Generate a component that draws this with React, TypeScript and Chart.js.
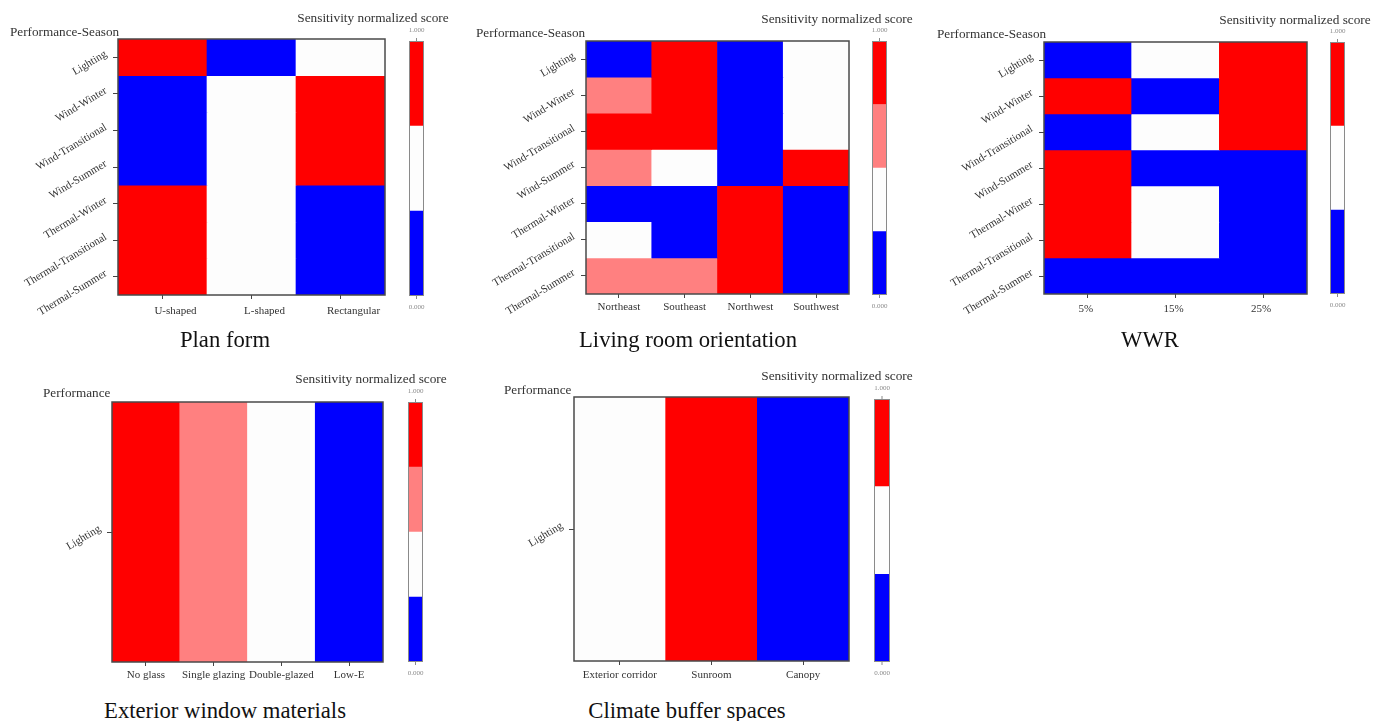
import { useEffect, useRef } from "react";
import { Chart, registerables } from "chart.js";

Chart.register(...registerables);

const SERIF = '"Liberation Serif", "Times New Roman", serif';

// Row labels (performance / season)
const seasonRows = [
  "Lighting",
  "Wind-Winter",
  "Wind-Transitional",
  "Wind-Summer",
  "Thermal-Winter",
  "Thermal-Transitional",
  "Thermal-Summer",
];
const lightingRow = ["Lighting"];

// Design levels (columns)
const planFormLevels = ["U-shaped", "L-shaped", "Rectangular"];
const orientationLevels = ["Northeast", "Southeast", "Northwest", "Southwest"];
const wwrLevels = ["5%", "15%", "25%"];
const windowLevels = ["No glass", "Single glazing", "Double-glazed", "Low-E"];
const bufferLevels = ["Exterior corridor", "Sunroom", "Canopy"];

// Sensitivity normalized scores, one row per performance-season
const planFormScores = [
  [1.0, 0.0, 0.52],
  [0.0, 0.46, 1.0],
  [0.0, 0.5, 1.0],
  [0.0, 0.55, 1.0],
  [1.0, 0.48, 0.0],
  [1.0, 0.5, 0.0],
  [1.0, 0.44, 0.0],
];
const orientationScores = [
  [0.12, 1.0, 0.0, 0.38],
  [0.62, 1.0, 0.0, 0.35],
  [0.86, 1.0, 0.0, 0.4],
  [0.6, 0.45, 0.0, 1.0],
  [0.1, 0.15, 1.0, 0.0],
  [0.3, 0.08, 1.0, 0.0],
  [0.58, 0.64, 1.0, 0.0],
];
const wwrScores = [
  [0.0, 0.5, 1.0],
  [1.0, 0.0, 0.9],
  [0.0, 0.45, 1.0],
  [1.0, 0.1, 0.0],
  [1.0, 0.5, 0.0],
  [1.0, 0.55, 0.0],
  [0.25, 0.1, 0.0],
];
const windowScores = [[1.0, 0.6, 0.35, 0.0]];
const bufferScores = [[0.5, 1.0, 0.0]];

// Discrete colour scales (low -> high)
const threeBinColors = ["#0000FF", "#FDFDFD", "#FF0000"];
const fourBinColors = ["#0000FF", "#FDFDFD", "#FF8080", "#FF0000"];
const scoreTickValues = [0, 1];
const scoreTickLabels = ["0.000", "1.000"];

function binColor(score: number, colors: string[]) {
  const n = colors.length;
  const k = Math.min(n - 1, Math.max(0, Math.floor(score * n)));
  return colors[k];
}

type Box = { x: number; y: number; w: number; h: number };
type Panel = {
  title: string;
  rowTitle: string;
  rows: string[];
  cols: string[];
  scores: number[][];
  colors: string[];
  plot: Box;
  bar: Box;
  labelGap: number;
  labelShift: number;
  rowTitleX: number;
  rowTitleY: number;
  legendX: number;
  legendY: number;
  titleX: number;
  titleY: number;
};

const panels: Panel[] = [
  {
    title: "Plan form",
    rowTitle: "Performance-Season",
    rows: seasonRows,
    cols: planFormLevels,
    scores: planFormScores,
    colors: threeBinColors,
    plot: { x: 118, y: 39, w: 267, h: 256 },
    bar: { x: 409, y: 41, w: 15, h: 255 },
    labelGap: 6,
    labelShift: 13,
    rowTitleX: 10,
    rowTitleY: 32,
    legendX: 373,
    legendY: 18,
    titleX: 225,
    titleY: 340,
  },
  {
    title: "Living room orientation",
    rowTitle: "Performance-Season",
    rows: seasonRows,
    cols: orientationLevels,
    scores: orientationScores,
    colors: fourBinColors,
    plot: { x: 586, y: 41, w: 263, h: 253 },
    bar: { x: 872, y: 41, w: 15, h: 254 },
    labelGap: 3,
    labelShift: 0,
    rowTitleX: 476,
    rowTitleY: 33,
    legendX: 837,
    legendY: 19,
    titleX: 688,
    titleY: 340,
  },
  {
    title: "WWR",
    rowTitle: "Performance-Season",
    rows: seasonRows,
    cols: wwrLevels,
    scores: wwrScores,
    colors: threeBinColors,
    plot: { x: 1044, y: 42, w: 263, h: 252 },
    bar: { x: 1330, y: 42, w: 15, h: 252 },
    labelGap: 5,
    labelShift: -2,
    rowTitleX: 937,
    rowTitleY: 34,
    legendX: 1295,
    legendY: 20,
    titleX: 1150,
    titleY: 340,
  },
  {
    title: "Exterior window materials",
    rowTitle: "Performance",
    rows: lightingRow,
    cols: windowLevels,
    scores: windowScores,
    colors: fourBinColors,
    plot: { x: 112, y: 402, w: 271, h: 260 },
    bar: { x: 408, y: 402, w: 15, h: 260 },
    labelGap: 3,
    labelShift: 0,
    rowTitleX: 43,
    rowTitleY: 393,
    legendX: 371,
    legendY: 379,
    titleX: 225,
    titleY: 711,
  },
  {
    title: "Climate buffer spaces",
    rowTitle: "Performance",
    rows: lightingRow,
    cols: bufferLevels,
    scores: bufferScores,
    colors: threeBinColors,
    plot: { x: 574, y: 397, w: 275, h: 264 },
    bar: { x: 874, y: 399, w: 16, h: 263 },
    labelGap: 4,
    labelShift: 0,
    rowTitleX: 504,
    rowTitleY: 390,
    legendX: 837,
    legendY: 376,
    titleX: 687,
    titleY: 711,
  },
];

const AXIS_W = 115;
const AXIS_H = 34;
const PAD_TOP = 4;
const PAD_RIGHT = 6;

function Heatmap({ p }: { p: Panel }) {
  const ref = useRef<HTMLCanvasElement>(null);
  useEffect(() => {
    const canvas = ref.current;
    if (!canvas) return;
    const rows = p.rows;
    const datasets = rows.map((row, r) => ({
      label: row,
      data: p.cols.map(() => [r, r + 1]),
      backgroundColor: p.cols.map((_, c) => binColor(p.scores[r][c], p.colors)),
      borderWidth: 0,
      barPercentage: 1,
      categoryPercentage: 1,
      grouped: false,
    }));
    const frame = {
      id: "frameAndRowLabels",
      afterDatasetsDraw(chart: any) {
        const { ctx, chartArea: a } = chart;
        ctx.save();
        ctx.strokeStyle = "#4a4a4a";
        ctx.lineWidth = 1.5;
        ctx.strokeRect(a.left, a.top, a.right - a.left, a.bottom - a.top);
        ctx.restore();
      },
      afterDraw(chart: any) {
        const { ctx, chartArea: a } = chart;
        const y = chart.scales.y;
        ctx.save();
        ctx.font = `11px ${SERIF}`;
        ctx.fillStyle = "#333333";
        ctx.textAlign = "right";
        ctx.textBaseline = "middle";
        rows.forEach((row, i) => {
          const py = y.getPixelForValue(i + 0.5);
          ctx.save();
          ctx.translate(a.left - 12, py - 4);
          ctx.rotate((-31 * Math.PI) / 180);
          ctx.fillText(row, 0, 0);
          ctx.restore();
        });
        ctx.restore();
      },
    };
    const chart = new Chart(canvas, {
      type: "bar",
      data: { labels: p.cols, datasets: datasets as any },
      options: {
        responsive: false,
        animation: false,
        events: [],
        layout: { padding: { top: PAD_TOP, right: PAD_RIGHT, left: 0, bottom: 0 } },
        plugins: {
          legend: { display: false },
          tooltip: { enabled: false },
        },
        scales: {
          x: {
            type: "category",
            offset: true,
            grid: {
              offset: false,
              drawOnChartArea: false,
              drawTicks: true,
              tickLength: 4,
              color: "#444444",
            },
            border: { display: false },
            ticks: {
              font: { family: SERIF, size: 11 },
              color: "#333333",
              padding: p.labelGap,
              labelOffset: p.labelShift,
              maxRotation: 0,
              minRotation: 0,
              autoSkip: false,
            },
            afterFit: (s: any) => {
              s.height = AXIS_H;
            },
          },
          y: {
            type: "linear",
            min: 0,
            max: rows.length,
            reverse: true,
            grid: {
              drawOnChartArea: false,
              drawTicks: true,
              tickLength: 5,
              color: "#444444",
            },
            border: { display: false },
            ticks: { display: false },
            afterBuildTicks: (s: any) => {
              s.ticks = rows.map((_, i) => ({ value: i + 0.5 }));
            },
            afterFit: (s: any) => {
              s.width = AXIS_W;
            },
          },
        },
      } as any,
      plugins: [frame],
    });
    return () => chart.destroy();
  }, [p]);
  const w = AXIS_W + p.plot.w + PAD_RIGHT;
  const h = PAD_TOP + p.plot.h + AXIS_H;
  return (
    <canvas
      ref={ref}
      width={w}
      height={h}
      style={{ position: "absolute", left: p.plot.x - AXIS_W, top: p.plot.y - PAD_TOP, width: w, height: h }}
    />
  );
}

const CB_PAD_X = 12;
const CB_PAD_Y = 20;

function ColorBar({ p }: { p: Panel }) {
  const ref = useRef<HTMLCanvasElement>(null);
  useEffect(() => {
    const canvas = ref.current;
    if (!canvas) return;
    const n = p.colors.length;
    const datasets = p.colors.map((c, k) => ({
      data: [[k / n, (k + 1) / n]],
      backgroundColor: c,
      borderWidth: 0,
      barPercentage: 1,
      categoryPercentage: 1,
      grouped: false,
    }));
    const deco = {
      id: "colorBarFrame",
      afterDraw(chart: any) {
        const { ctx, chartArea: a } = chart;
        const y = chart.scales.y;
        const cx = (a.left + a.right) / 2;
        ctx.save();
        ctx.strokeStyle = "#8a8a8a";
        ctx.lineWidth = 1;
        ctx.strokeRect(a.left + 0.5, a.top + 0.5, a.right - a.left - 1, a.bottom - a.top - 1);
        ctx.font = `7px ${SERIF}`;
        ctx.fillStyle = "#8a8a8a";
        ctx.textAlign = "center";
        ctx.textBaseline = "middle";
        scoreTickValues.forEach((v, i) => {
          const py = y.getPixelForValue(v);
          const dir = v === 0 ? 1 : -1;
          ctx.beginPath();
          ctx.moveTo(cx, py);
          ctx.lineTo(cx, py + dir * 3);
          ctx.stroke();
          ctx.fillText(scoreTickLabels[i], cx, py + dir * 11);
        });
        ctx.restore();
      },
    };
    const chart = new Chart(canvas, {
      type: "bar",
      data: { labels: ["score"], datasets: datasets as any },
      options: {
        responsive: false,
        animation: false,
        events: [],
        layout: { padding: { top: CB_PAD_Y, bottom: CB_PAD_Y, left: CB_PAD_X, right: CB_PAD_X } },
        plugins: { legend: { display: false }, tooltip: { enabled: false } },
        scales: {
          x: { display: false, offset: true },
          y: { display: false, min: 0, max: 1 },
        },
      } as any,
      plugins: [deco],
    });
    return () => chart.destroy();
  }, [p]);
  const w = p.bar.w + CB_PAD_X * 2;
  const h = p.bar.h + CB_PAD_Y * 2;
  return (
    <canvas
      ref={ref}
      width={w}
      height={h}
      style={{ position: "absolute", left: p.bar.x - CB_PAD_X, top: p.bar.y - CB_PAD_Y, width: w, height: h }}
    />
  );
}

function Text({
  text,
  x,
  y,
  size,
  color,
  align,
}: {
  text: string;
  x: number;
  y: number;
  size: number;
  color: string;
  align: "left" | "center";
}) {
  return (
    <div
      style={{
        position: "absolute",
        left: x,
        top: y - size / 2,
        transform: align === "center" ? "translateX(-50%)" : undefined,
        fontFamily: SERIF,
        fontSize: size,
        lineHeight: `${size}px`,
        color,
        whiteSpace: "nowrap",
      }}
    >
      {text}
    </div>
  );
}

export default function App() {
  return (
    <div
      style={{
        position: "absolute",
        left: 0,
        top: 0,
        width: 1380,
        height: 721,
        background: "#ffffff",
        overflow: "hidden",
      }}
    >
      {panels.map((p) => (
        <div key={p.title}>
          <Heatmap p={p} />
          <ColorBar p={p} />
          <Text text={p.rowTitle} x={p.rowTitleX} y={p.rowTitleY} size={13.2} color="#333333" align="left" />
          <Text text="Sensitivity normalized score" x={p.legendX} y={p.legendY} size={13.3} color="#333333" align="center" />
          <Text text={p.title} x={p.titleX} y={p.titleY} size={22.7} color="#111111" align="center" />
        </div>
      ))}
    </div>
  );
}
